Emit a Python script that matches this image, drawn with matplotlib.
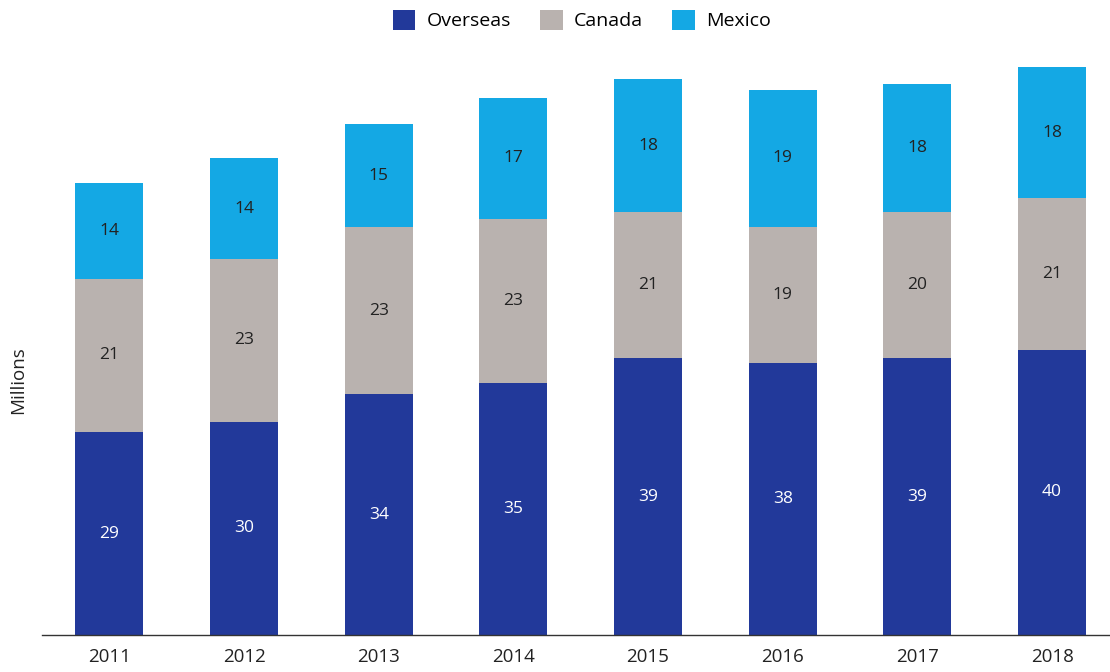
import matplotlib
matplotlib.use("Agg")
import matplotlib.pyplot as plt
import numpy as np

plt.rcParams['font.family'] = ['Open Sans', 'DejaVu Sans']

years = ['2011', '2012', '2013', '2014', '2015', '2016', '2017', '2018']
# segment heights (millions)
overseas = [28.2, 29.7, 33.5, 35.0, 38.5, 37.8, 38.5, 39.7]
canada = [21.4, 22.6, 23.2, 22.9, 20.3, 19.0, 20.3, 21.1]
mexico = [13.3, 14.0, 14.4, 16.8, 18.5, 19.0, 17.8, 18.2]
# numbers printed on the bars
overseas_labels = [29, 30, 34, 35, 39, 38, 39, 40]
canada_labels = [21, 23, 23, 23, 21, 19, 20, 21]
mexico_labels = [14, 14, 15, 17, 18, 19, 18, 18]

c_overseas = '#22399a'
c_canada = '#b9b2af'
c_mexico = '#14a8e4'

fig = plt.figure(figsize=(11.1, 6.72), dpi=100)
ax = fig.add_axes([42 / 1110, 37 / 672, 1068 / 1110, 575 / 672])

ind = np.arange(len(years))
w = 0.505
ov = np.array(overseas)
ca = np.array(canada)
mx = np.array(mexico)

p1 = ax.bar(ind, ov, w, color=c_overseas)
p2 = ax.bar(ind, ca, w, bottom=ov, color=c_canada)
p3 = ax.bar(ind, mx, w, bottom=ov + ca, color=c_mexico)

for i in ind:
    ax.text(i, ov[i] / 2, str(overseas_labels[i]), ha='center', va='center',
            fontsize=12.5, color='white')
    ax.text(i, ov[i] + ca[i] / 2, str(canada_labels[i]), ha='center', va='center',
            fontsize=12.5, color='#222222')
    ax.text(i, ov[i] + ca[i] + mx[i] / 2, str(mexico_labels[i]), ha='center', va='center',
            fontsize=12.5, color='#222222')

ax.set_xlim(-0.5, 7.43)
ax.set_ylim(0, 80)
ax.set_xticks(ind)
ax.set_xticklabels(years, fontsize=13.5, color='#222222')
ax.tick_params(axis='x', length=0, pad=9)
ax.set_yticks([])
for s in ['top', 'right', 'left']:
    ax.spines[s].set_visible(False)
ax.spines['bottom'].set_color('#333333')
ax.spines['bottom'].set_linewidth(1.0)

fig.text(18 / 1110, 1 - 380 / 672, 'Millions', rotation=90, ha='center', va='center',
         fontsize=13.5, color='#222222')

fig.legend((p1[0], p2[0], p3[0]), ('Overseas', 'Canada', 'Mexico'),
           loc='center', bbox_to_anchor=(582 / 1110, 1 - 20 / 672), ncol=3,
           frameon=False, fontsize=14, handlelength=1.15, handleheight=1.25,
           columnspacing=1.5, handletextpad=0.6)

fig.savefig('out.png', dpi=100)
